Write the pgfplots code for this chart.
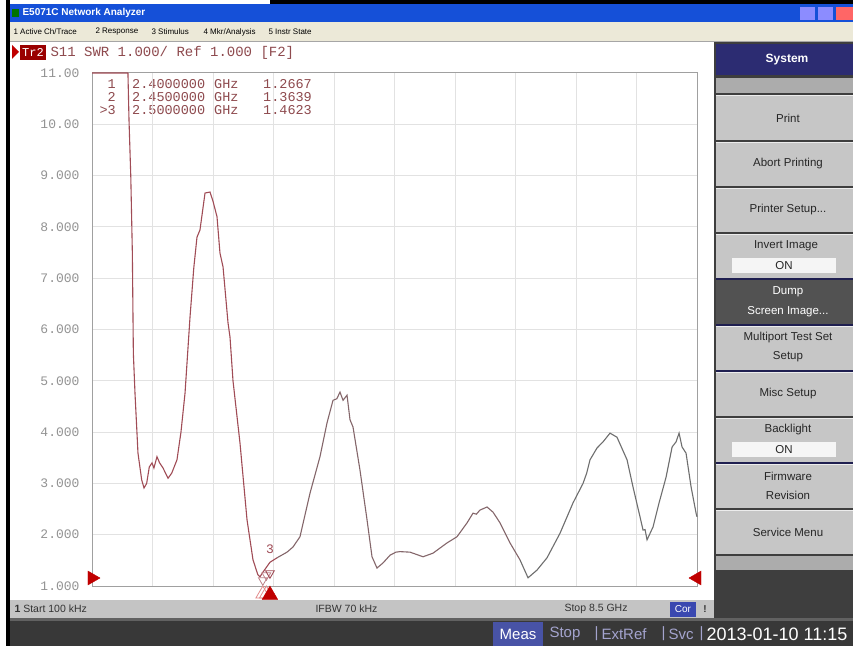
\documentclass[border=0pt]{standalone}
\usepackage{fontspec}
\setmainfont{Liberation Sans}
\setmonofont{Liberation Mono}
\usepackage{pgfplots}
\pgfplotsset{compat=1.18}

\definecolor{trc}{HTML}{A04C56}
\definecolor{trm}{HTML}{84666A}
\definecolor{trg}{HTML}{6E6E6E}
\definecolor{mk}{HTML}{8E4A4E}
\definecolor{lbl}{HTML}{939393}
\definecolor{grd}{HTML}{E2E2E2}
\definecolor{frm}{HTML}{A0A0A0}
\definecolor{mred}{HTML}{C00000}
\definecolor{xpblue}{HTML}{1550D8}
\definecolor{beige}{HTML}{ECE9D8}
\definecolor{btn}{HTML}{C6C6C6}
\definecolor{navy}{HTML}{2C2C72}
\definecolor{panel}{HTML}{3E3E3E}
\definecolor{stat}{HTML}{C4C4C4}
\definecolor{corblue}{HTML}{3A48B0}

\begin{document}
\begin{tikzpicture}
% screen furniture, 1pt = 1 screen pixel, y counted downwards
\begin{scope}[x=1pt,y=-1pt,yshift=646pt]
  \useasboundingbox (0,0) rectangle (853,646);
  \fill[white] (0,0) rectangle (853,646);
  \fill[black] (6,0) rectangle (10,646);
  \fill[black] (270,0) rectangle (853,4);
  % title bar
  \fill[xpblue] (10,4) rectangle (853,22);
  \fill[green!45!black] (12,9) rectangle (19,17);
  \node[anchor=west, white, font=\fontsize{10}{10}\selectfont\bfseries] at (19,13) {E5071C Network Analyzer};
  \fill[blue!45!white] (800,7) rectangle (815,20);
  \fill[blue!45!white] (818,7) rectangle (833,20);
  \fill[red!60!white] (836,7) rectangle (853,20);
  % menu bar
  \fill[beige] (10,22) rectangle (853,41);
  \draw[gray!70] (10,41) -- (853,41);
  \begin{scope}[every node/.style={anchor=west, font=\fontsize{8}{8}\selectfont}]
    \node at (10,32) {1 Active Ch/Trace};
    \node at (92,32) {2 Response};
    \node at (148,32) {3 Stimulus};
    \node at (200,32) {4 Mkr/Analysis};
    \node at (265,32) {5 Instr State};
  \end{scope}
  % trace header
  \fill[mred] (12,45) -- (19,52) -- (12,59) -- cycle;
  \fill[mred!80!black] (20,45) rectangle (46,60);
  \node[white, font=\fontsize{12}{12}\ttfamily] at (33,52.5) {Tr2};
  \node[anchor=west, mk, font=\fontsize{14}{14}\ttfamily] at (47,52.5) {S11 SWR 1.000/ Ref 1.000 [F2]};
  % marker table
  \begin{scope}[every node/.style={mk, font=\fontsize{13.5}{13.5}\ttfamily, inner sep=0pt}]
    \node[anchor=east] at (116,84) {1};
    \node[anchor=east] at (116,97) {2};
    \node[anchor=east] at (116,110) {>3};
    \node[anchor=west] at (132,84) {2.4000000};
    \node[anchor=west] at (132,97) {2.4500000};
    \node[anchor=west] at (132,110) {2.5000000};
    \node[anchor=west] at (214,84) {GHz};
    \node[anchor=west] at (214,97) {GHz};
    \node[anchor=west] at (214,110) {GHz};
    \node[anchor=west] at (263,84) {1.2667};
    \node[anchor=west] at (263,97) {1.3639};
    \node[anchor=west] at (263,110) {1.4623};
  \end{scope}
  % status bar
  \fill[stat] (10,600) rectangle (714,618);
  \begin{scope}[every node/.style={anchor=west, font=\fontsize{10.5}{10.5}\selectfont, text=black!80}]
    \node at (11,609) {\textbf{1}\ Start 100 kHz};
    \node at (312,609) {IFBW 70 kHz};
    \node at (561,609) {Stop 8.5 GHz};
  \end{scope}
  \fill[corblue] (670,602) rectangle (696,617);
  \node[white, font=\fontsize{10}{10}\selectfont] at (683,609.5) {Cor};
  \node[font=\fontsize{10}{10}\selectfont\bfseries, text=black!80] at (705,609) {!};
  % bottom bar
  \fill[black!78] (10,618) rectangle (853,646);
  \fill[black!62] (10,618) rectangle (853,621);
  \fill[corblue!80!gray] (493,622) rectangle (543,646);
  \node[white, font=\fontsize{15}{15}\selectfont] at (518,634) {Meas};
  \begin{scope}[every node/.style={anchor=west, font=\fontsize{15}{15}\selectfont, text=gray!70!blue!55!white}]
    \node at (546,634) {Stop};
    \node at (591,634) {|};
    \node at (598,634) {ExtRef};
    \node at (658,634) {|};
    \node at (665,634) {Svc};
    \node at (696,634) {|};
  \end{scope}
  \node[anchor=west, white, font=\fontsize{18}{18}\selectfont] at (703,634) {2013-01-10 11:15};
  % soft key panel
  \fill[panel] (714,42) rectangle (853,618);
  \fill[navy] (716,44) rectangle (853,75);
  \node[white, font=\fontsize{12}{12}\selectfont\bfseries] at (787,60) {System};
  \fill[gray!65] (716,78) rectangle (853,93);
  \foreach \ya/\yb in {95/140,142/186,188/232,234/278,326/370,372/416,418/462,464/508,510/554} {
    \fill[btn] (716,\ya) rectangle (853,\yb);
    \draw[white!85!gray] (716,\ya+0.5) -- (853,\ya+0.5);
  }
  \fill[black!68] (716,280) rectangle (853,324);
  \fill[gray!65] (716,556) rectangle (853,570);
  \fill[navy!70!black] (716,278) rectangle (853,280);
  \fill[navy!70!black] (716,324) rectangle (853,326);
  \fill[navy!70!black] (716,370) rectangle (853,372);
  \fill[navy!70!black] (716,462) rectangle (853,464);
  \fill[white!92!gray] (732,258) rectangle (836,273);
  \fill[white!92!gray] (732,442) rectangle (836,457);
  \begin{scope}[every node/.style={font=\fontsize{11.5}{11.5}\selectfont, text=black!85}]
    \node at (788,118) {Print};
    \node at (788,164) {Abort Printing};
    \node at (788,210) {Printer Setup...};
    \node at (786,246) {Invert Image};
    \node at (784,265.5) {ON};
    \node[white] at (788,292) {Dump};
    \node[white] at (788,312) {Screen Image...};
    \node at (788,338) {Multiport Test Set};
    \node at (788,357) {Setup};
    \node at (788,394) {Misc Setup};
    \node at (788,430) {Backlight};
    \node at (784,449.5) {ON};
    \node at (788,476) {Firmware};
    \node at (788,495) {Revision};
    \node at (788,532) {Service Menu};
  \end{scope}
\end{scope}

\begin{axis}[
  at={(92pt,60pt)}, anchor=south west,
  scale only axis, width=605pt, height=513pt,
  xmin=0, xmax=8.5, ymin=1, ymax=11,
  xtick={0,0.85,1.7,2.55,3.4,4.25,5.1,5.95,6.8,7.65,8.5},
  xticklabels={},
  ytick={1,2,3,4,5,6,7,8,9,10,11},
  yticklabels={1.000,2.000,3.000,4.000,5.000,6.000,7.000,8.000,9.000,10.00,11.00},
  yticklabel style={font=\fontsize{13}{13}\ttfamily, text=lbl, xshift=-9pt},
  major tick length=0pt,
  grid=major,
  grid style={grd, line width=1pt},
  axis line style={frm, line width=1pt},
  clip=false,
]
% S11 SWR trace
\addplot[trc, line width=1.1pt] coordinates {
  (0.0001,11) (0.505,11) (0.52,10.08) (0.545,8.98) (0.567,7.49) (0.581,5.54)
  (0.604,4.76) (0.646,3.59) (0.698,3.07) (0.731,2.91) (0.768,3.00) (0.805,3.32)
  (0.843,3.40) (0.870,3.30) (0.913,3.52) (0.950,3.40) (0.998,3.30) (1.068,3.10)
  (1.120,3.20) (1.194,3.46) (1.250,4.00) (1.307,4.76) (1.377,6.24) (1.430,7.20)
  (1.475,7.80) (1.517,7.94) (1.588,8.66) (1.658,8.68) (1.700,8.50) (1.756,8.20)
  (1.798,7.49) (1.841,7.22) (1.911,6.13) (1.939,5.85) (1.981,5.00) (2.079,3.79)
  (2.178,2.29) (2.262,1.51) (2.330,1.22) (2.360,1.18) (2.40,1.2667) (2.45,1.3639)
  (2.50,1.4623) (2.60,1.55)
};
\addplot[trm, line width=1.1pt] coordinates {
  (2.60,1.55) (2.740,1.66) (2.824,1.76) (2.922,1.96) (3.063,2.81) (3.203,3.52)
  (3.302,4.18) (3.386,4.62) (3.440,4.65) (3.484,4.78) (3.527,4.62) (3.583,4.72)
  (3.625,4.24) (3.667,4.10) (3.765,3.26) (3.864,2.29) (3.934,1.57) (4.004,1.35)
  (4.089,1.45) (4.187,1.60) (4.270,1.66) (4.327,1.67) (4.468,1.66) (4.651,1.57)
  (4.791,1.64) (4.988,1.84) (5.128,1.96) (5.269,2.23) (5.353,2.42) (5.400,2.40)
  (5.451,2.48) (5.550,2.54) (5.634,2.44) (5.733,2.23) (5.873,1.84) (6.013,1.51)
};
\addplot[trg, line width=1.1pt] coordinates {
  (6.013,1.51) (6.126,1.16) (6.252,1.31) (6.393,1.55) (6.576,2.03) (6.758,2.62)
  (6.899,3.00) (6.950,3.20) (6.997,3.46) (7.095,3.69) (7.180,3.81) (7.278,3.98)
  (7.376,3.90) (7.517,3.46) (7.601,2.93) (7.699,2.35) (7.742,2.09) (7.770,2.10)
  (7.798,1.90) (7.882,2.15) (7.967,2.62) (8.065,3.12) (8.150,3.71) (8.206,3.81)
  (8.248,3.98) (8.290,3.71) (8.346,3.59) (8.417,2.93) (8.487,2.42) (8.50,2.35)
};
% markers on the trace
\addplot[only marks, mark=triangle, mark size=5pt,
  mark options={rotate=180, draw=trc!70, yshift=8pt, line width=0.8pt}]
  coordinates {(2.40,1.2667) (2.45,1.3639)};
\addplot[only marks, mark=triangle, mark size=5pt,
  mark options={rotate=180, draw=trc, yshift=11pt, line width=0.9pt},
  nodes near coords={3},
  every node near coord/.append style={anchor=center, yshift=24pt, text=trc,
    font=\fontsize{13}{13}\ttfamily}]
  coordinates {(2.50,1.4623)};
% stimulus position of markers
\addplot[only marks, mark=triangle, mark size=8pt,
  mark options={draw=mred!45, yshift=-8pt, line width=0.8pt}]
  coordinates {(2.40,1) (2.45,1)};
\addplot[only marks, mark=triangle*, mark size=9pt,
  mark options={fill=mred, draw=mred, yshift=-9pt}]
  coordinates {(2.50,1)};
% reference position arrows
\addplot[only marks, mark=triangle*, mark size=8pt,
  mark options={rotate=-90, fill=mred, draw=mred, xshift=-8pt}]
  coordinates {(0,1)};
\addplot[only marks, mark=triangle*, mark size=8pt,
  mark options={rotate=90, fill=mred, draw=mred, xshift=8pt}]
  coordinates {(8.5,1)};
\end{axis}
\end{tikzpicture}
\end{document}
